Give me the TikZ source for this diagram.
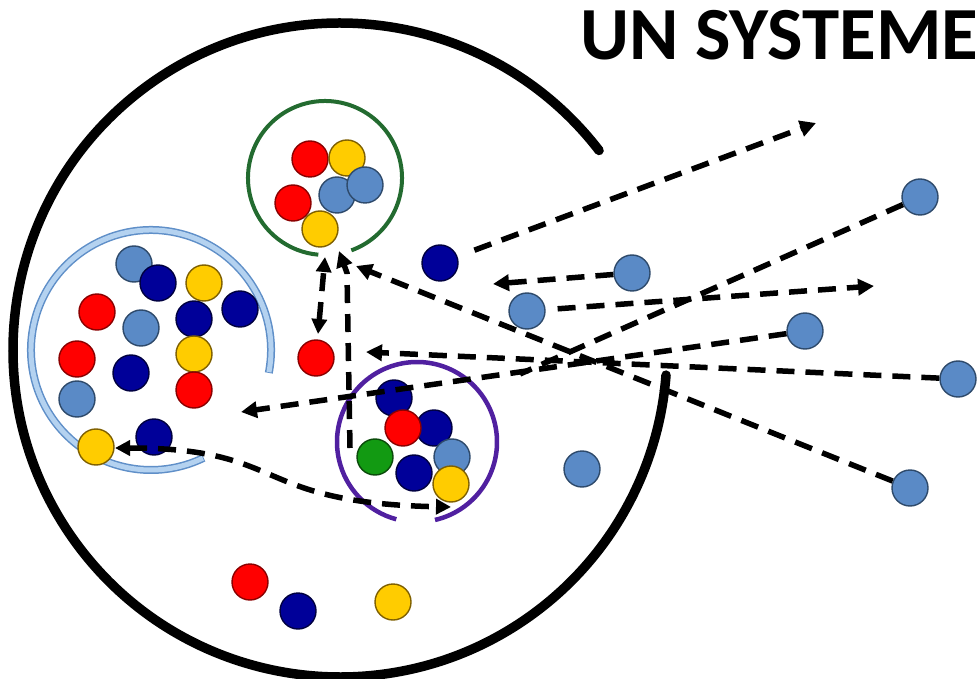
\documentclass[tikz,border=0pt]{standalone}
\usepackage{fontspec}
\setmainfont{Carlito}
\usetikzlibrary{arrows.meta}
\definecolor{cRed}{HTML}{FF0000}
\definecolor{cRedD}{HTML}{8B0000}
\definecolor{cYel}{HTML}{FFCC00}
\definecolor{cYelD}{HTML}{7F6000}
\definecolor{cStl}{HTML}{5A8AC6}
\definecolor{cStlD}{HTML}{2E4A6B}
\definecolor{cNav}{HTML}{000099}
\definecolor{cNavD}{HTML}{000040}
\definecolor{cGrn}{HTML}{129A12}
\definecolor{cGrnD}{HTML}{0A4A0A}
\definecolor{cGrnRing}{HTML}{236B30}
\definecolor{cPur}{HTML}{5020A0}
\definecolor{cLbO}{HTML}{5F8FC8}
\definecolor{cLbI}{HTML}{B4D2F0}
\begin{document}
\begin{tikzpicture}[x=1pt,y=1pt,
  ball/.style={circle, minimum size=36pt, inner sep=0pt, line width=1.4pt},
  bR/.style={ball, fill=cRed, draw=cRedD},
  bY/.style={ball, fill=cYel, draw=cYelD},
  bS/.style={ball, fill=cStl, draw=cStlD},
  bN/.style={ball, fill=cNav, draw=cNavD},
  bG/.style={ball, fill=cGrn, draw=cGrnD},
  flow/.style={line width=5.5pt, dash pattern=on 18pt off 11pt},
  arr/.style={-{Triangle[length=16pt,width=16pt]}},
  darr/.style={{Triangle[length=15pt,width=15pt]}-{Triangle[length=15pt,width=15pt]}},
]
\useasboundingbox (0,0) rectangle (979,678);

% title
\node[font=\fontsize{75}{82}\selectfont\bfseries, anchor=base west, inner sep=0pt] (title) at (580,618) {UN SYSTEME};

% system boundary
\coordinate (sys) at (340,328);
\draw[line width=9.5pt, line cap=round] (sys) ++(37.6:327) arc[start angle=37.6, end angle=355.6, radius=327];

% sub-system rings
\coordinate (gc) at (325,500);
\draw[cGrnRing, line width=4pt] (gc) ++(290:77) arc[start angle=290, end angle=625, radius=77];
\coordinate (pc) at (417,236);
\draw[cPur, line width=4.5pt] (pc) ++(283:80) arc[start angle=283, end angle=615, radius=80];
\coordinate (lc) at (151,328);
\draw[cLbO, line width=8pt] (lc) ++(-11:120) arc[start angle=-11, end angle=296, radius=120];
\draw[cLbI, line width=5pt] (lc) ++(-10.6:120) arc[start angle=-10.6, end angle=295.6, radius=120];

% green cluster
\node[bR] (g1) at (310,519) {};
\node[bY] (g2) at (347,520) {};
\node[bS] (g3) at (337,483) {};
\node[bS] (g4) at (365,493) {};
\node[bR] (g5) at (293,475) {};
\node[bY] (g6) at (320,449) {};

% left cluster
\node[bS] (l1) at (134,414) {};
\node[bN] (l2) at (158,395) {};
\node[bY] (l3) at (204,395) {};
\node[bR] (l4) at (97,366) {};
\node[bS] (l5) at (141,350) {};
\node[bN] (l6) at (194,359) {};
\node[bN] (l7) at (240,369) {};
\node[bR] (l8) at (77,319) {};
\node[bN] (l9) at (131,305) {};
\node[bY] (l10) at (194,324) {};
\node[bR] (l11) at (194,288) {};
\node[bS] (l12) at (77,279) {};
\node[bN] (l13) at (154,241) {};
\node[bY] (l14) at (96,231) {};

% purple cluster
\node[bN] (p1) at (394,280) {};
\node[bN] (p3) at (434,250) {};
\node[bR] (p2) at (403,250) {};
\node[bG] (p4) at (375,221) {};
\node[bS] (p5) at (452,221) {};
\node[bN] (p6) at (414,205) {};
\node[bY] (p7) at (451,194) {};

% free particles
\node[bN] (nA) at (440,415) {};
\node[bS] (sC) at (632,405) {};
\node[bS] (sB) at (527,367) {};
\node[bS] (sE) at (805,347) {};
\node[bS] (sG) at (920,481) {};
\node[bS] (sD) at (958,299) {};
\node[bS] (sF) at (910,190) {};
\node[bS] (sX) at (582,209) {};
\node[bR] (rS) at (316,320) {};
\node[bR] (b1) at (250,96) {};
\node[bN] (b2) at (298,67) {};
\node[bY] (b3) at (393,76) {};

% arrow end points
\coordinate (tA) at (816,555);
\coordinate (tB) at (874,392);
\coordinate (tC) at (493,394);
\coordinate (tD) at (366,326);
\coordinate (tE) at (241,266);
\coordinate (tF) at (356,412);
\coordinate (jG) at (520,304);
\coordinate (hT) at (325,421);
\coordinate (hB) at (318,344);
\coordinate (iB) at (350,230);
\coordinate (iM) at (347,405);
\coordinate (iT) at (339,427);
\coordinate (jL) at (115,230);
\coordinate (jR) at (451,171);

% flows
\draw[flow, arr, shorten <=18pt] (nA) -- (tA);
\draw[flow, arr, shorten <=12pt] (sB) -- (tB);
\draw[flow, arr] (sC) -- (tC);
\draw[flow, arr] (sD) -- (tD);
\draw[flow, arr] (sE) -- (tE);
\draw[flow, arr] (sF) -- (tF);
\draw[flow] (sG) -- (jG);
\draw[flow, darr] (hB) -- (hT);
\draw[flow, arr] (iB) -- (iM) -- (iT);
\draw[flow, darr] (jL) .. controls (290,230) and (250,175) .. (jR);
\end{tikzpicture}
\end{document}
